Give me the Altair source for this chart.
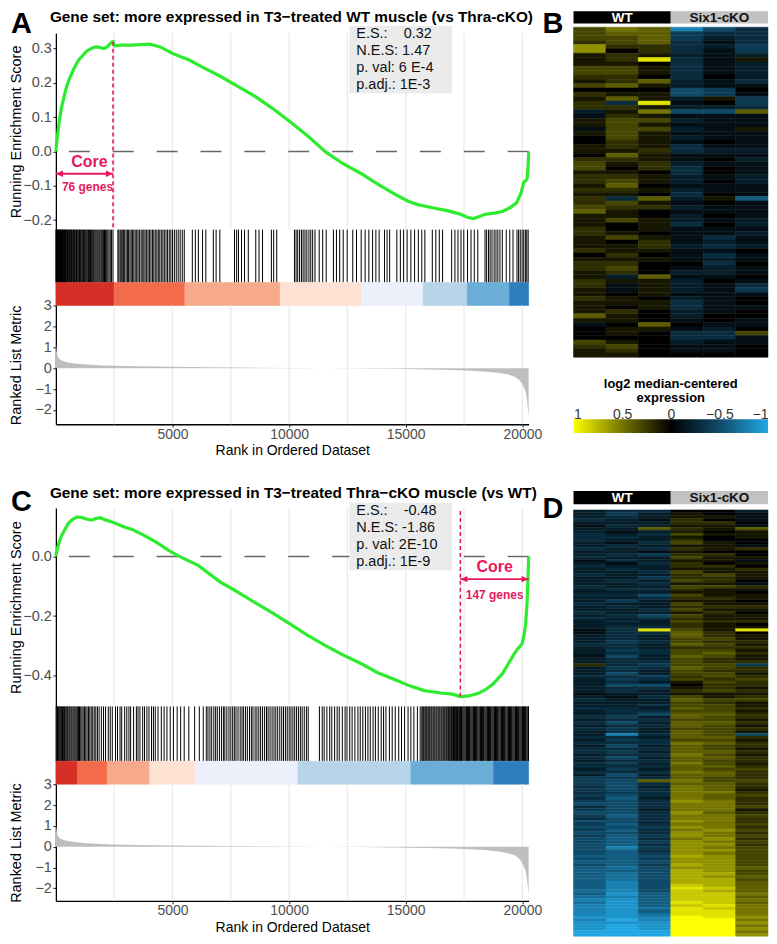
import altair as alt
import pandas as pd

FONT = "Liberation Sans"
RED = "#E8185E"
GREEN = "#2DEB2D"
BLUE_HI = "#21A6E3"
BLUE_MID = "#0F4B69"
YEL_MID = "#757500"

RANK_MAX = 20270
GRID_RANKS = [2500, 5000, 7500, 10000, 12500, 15000, 17500, 20000]
X_TICKS = [5000, 10000, 15000, 20000]
METRIC_TICKS = [-2, -1, 0, 1, 2, 3]
LEGEND_TICKS = [1, 0.5, 0, -0.5, -1]
BAND_COLORS = ["#D62F27", "#F26B4B", "#F7A98B", "#FDE2D4", "#ECF0FA", "#B7D4E8", "#6AAED7", "#2F7EBC"]

# ---------------- panel A ----------------
A_TITLE = "Gene set: more expressed in T3\u2212treated WT muscle (vs Thra-cKO)"
A_ES_RANK = [0, 40, 85, 150, 237, 350, 462, 600, 763, 900, 993, 1150, 1296, 1450, 1600, 1750, 1900, 2052,
             2200, 2300, 2385, 2450, 2520, 2800, 3263, 3700, 4020, 4250, 4474, 4750, 5000, 5400, 5680, 6300,
             7030, 7800, 8560, 9300, 10070, 10800, 11580, 12300, 13100, 13800, 14600, 15100, 15520, 16200,
             16870, 17300, 17640, 17900, 18150, 18400, 18800, 19150, 19450, 19750, 19950, 20060, 20150,
             20210, 20250, 20270]
A_ES_VAL = [0.0, 0.03, 0.055, 0.09, 0.127, 0.16, 0.19, 0.215, 0.24, 0.258, 0.268, 0.28, 0.291, 0.298, 0.303,
            0.305, 0.303, 0.30, 0.305, 0.312, 0.319, 0.32, 0.308, 0.31, 0.31, 0.312, 0.313, 0.309, 0.305, 0.295,
            0.286, 0.275, 0.268, 0.245, 0.22, 0.19, 0.16, 0.125, 0.085, 0.045, -0.002, -0.035, -0.065, -0.095,
            -0.127, -0.145, -0.155, -0.165, -0.174, -0.182, -0.192, -0.196, -0.19, -0.183, -0.18, -0.175,
            -0.165, -0.15, -0.12, -0.09, -0.085, -0.078, -0.04, 0.0]
A_HITS = [3, 14, 31, 44, 58, 77, 95, 118, 133, 150, 171, 196, 214, 239, 262, 281, 305, 322, 348, 371, 399,
          418, 444, 471, 502, 527, 553, 580, 611, 640, 672, 700, 733, 761, 790, 822, 856, 884, 912, 950, 984,
          1015, 1049, 1080, 1117, 1152, 1190, 1221, 1258, 1296, 1330, 1371, 1404, 1446, 1483, 1520, 1561,
          1604, 1640, 1682, 1725, 1770, 1811, 1857, 1899, 1946, 1990, 2038, 2085, 2131, 2180, 2228, 2279,
          2331, 2388, 2450,
          2660, 2702, 2758, 2801, 2846, 2905, 2951, 3012, 3067, 3118, 3176, 3230, 3290, 3342, 3401, 3466,
          3521, 3580, 3652, 3703, 3770, 3825, 3892, 3950, 4011, 4076, 4140, 4199, 4262, 4330, 4391, 4455,
          4520, 4588, 4650, 4722, 4790, 4861, 4930, 5002, 5080, 5161, 5245, 5330, 5420, 5505,
          5850, 5980, 6110, 6290, 6430, 6750, 6870, 7030, 7660, 7750, 7830, 7960, 8090, 8250, 8570, 8710,
          8860, 9240, 9340, 9470, 10230, 10300, 10370, 10450, 10530, 10600, 10680, 10760, 10850, 10930,
          11010, 11110, 11290, 11440, 11590, 11900, 12030, 12170, 12320, 12490, 12730, 12890, 13090, 13260,
          13420, 13580, 13720, 13860, 14090, 14200, 14310, 14620, 14770, 14910, 15060, 15220, 15380, 15540,
          15690, 15820, 16140, 16290, 16440, 16580, 16970, 17110, 17240, 17370, 17490, 17650, 17800, 17940,
          18090, 18400, 18470, 18550, 18620, 18700, 18790, 18870, 18950, 19040, 19140, 19310, 19460, 19600,
          19770, 19840, 19910, 19990, 20060, 20130, 20190, 20250]
A_BAND_EDGES = [0, 2500, 5530, 9620, 13100, 15750, 17640, 19450, 20270]
A_MET_RANK = [0, 10, 30, 60, 100, 170, 300, 500, 800, 1300, 2000, 2500, 3500, 5000, 6500, 8000, 10000,
              11500, 13000, 14500, 16000, 17000, 17800, 18500, 19000, 19400, 19700, 19900, 20050, 20150,
              20210, 20250, 20270]
A_MET_VAL = [1.45, 1.1, 0.85, 0.65, 0.52, 0.43, 0.34, 0.27, 0.22, 0.17, 0.13, 0.11, 0.085, 0.06, 0.04,
             0.025, 0.01, 0.0, -0.015, -0.035, -0.065, -0.09, -0.12, -0.17, -0.23, -0.31, -0.42, -0.6,
             -0.85, -1.15, -1.6, -2.1, -2.4]
A_CORE = 2450
A_CORE_LABEL = ["Core", "76 genes"]
A_STATS = ["E.S.:\u00a0\u00a0\u00a0\u00a00.32", "N.E.S: 1.47", "p. val: 6 E-4", "p.adj.: 1E-3"]

# ---------------- panel C ----------------
C_TITLE = "Gene set: more expressed in T3\u2212treated Thra\u2212cKO muscle (vs WT)"
C_ES_RANK = [0, 60, 150, 237, 380, 540, 720, 917, 1150, 1350, 1525, 1700, 1900, 2150, 2500, 2900, 3263,
             3800, 4320, 4800, 5230, 6100, 7040, 7800, 8560, 9300, 10070, 10800, 11580, 12300, 13100, 13800,
             14600, 15200, 15800, 16500, 17000, 17340, 17700, 18090, 18400, 18690, 18900, 19150, 19400,
             19610, 19800, 19985, 20080, 20140, 20200, 20240, 20270]
C_ES_VAL = [0.0, 0.025, 0.05, 0.069, 0.09, 0.112, 0.125, 0.133, 0.13, 0.125, 0.122, 0.127, 0.13, 0.122,
            0.113, 0.1, 0.091, 0.07, 0.047, 0.022, 0.003, -0.03, -0.085, -0.12, -0.156, -0.19, -0.228, -0.265,
            -0.3, -0.33, -0.36, -0.39, -0.415, -0.435, -0.45, -0.458, -0.462, -0.47, -0.468, -0.46, -0.448,
            -0.431, -0.415, -0.393, -0.36, -0.332, -0.31, -0.294, -0.26, -0.228, -0.16, -0.08, 0.0]
C_HITS = [8, 36, 70, 104, 139, 171, 210, 247, 283, 322, 366, 401, 443, 487, 520, 566, 604, 651, 690, 738,
          781, 826, 871, 920, 968, 1013, 1066, 1118, 1170, 1226, 1281, 1338, 1397, 1455, 1516, 1580, 1645,
          1712, 1781, 1853, 1950, 2044, 2131, 2247, 2330, 2419, 2558, 2643, 2751, 2822, 2950, 3041, 3133,
          3205, 3331, 3452, 3521, 3604, 3722, 3801, 3903, 3992, 4101, 4183, 4262, 4380, 4521, 4640, 4762,
          4903, 5040, 5201, 5350, 5502, 5700, 5950, 6150, 6320,
          6450, 6521, 6604, 6680, 6772, 6850, 6921, 7012, 7100, 7183, 7244, 7330, 7421, 7502, 7580, 7651,
          7723, 7810, 7902, 7981, 8050, 8133, 8210, 8302, 8381, 8450, 8542, 8620, 8701, 8780, 8862, 8950,
          9031, 9100, 9183, 9270, 9352, 9430, 9511, 9600, 9683, 9760, 9842, 9920, 10003, 10080, 10162,
          10240, 10321, 10400, 10483, 10560, 10650, 10742, 10820,
          11300, 11420, 11503, 11620, 11741, 11830, 11952, 12060, 12150, 12281, 12400, 12483, 12600, 12702,
          12820, 12951, 13050, 13160, 13272, 13380, 13481, 13600, 13700, 13822, 13950, 14050, 14152, 14300,
          14420, 14551, 14700, 14820, 14952, 15100, 15221, 15350, 15500, 15620,
          15690, 15730, 15770, 15820, 15860, 15900, 15950, 15990, 16030, 16080, 16120, 16170, 16210, 16250,
          16300, 16340, 16390, 16430, 16470, 16520, 16560, 16610, 16650, 16690, 16740, 16780, 16830, 16870,
          16910, 16960, 17000, 17050, 17090, 17130, 17180, 17220, 17270, 17310, 17350, 17390, 17420, 17460,
          17500, 17540, 17580, 17610, 17650, 17690, 17730, 17760, 17800, 17840, 17880, 17910, 17950, 17990,
          18030, 18060, 18100, 18140, 18180, 18210, 18250, 18290, 18330, 18360, 18400, 18440, 18480, 18510,
          18550, 18590, 18630, 18660, 18700, 18740, 18780, 18810, 18850, 18890, 18930, 18960, 19000, 19040,
          19080, 19110, 19150, 19190, 19230, 19260, 19300, 19340, 19380, 19410, 19450, 19490, 19530, 19560,
          19600, 19640, 19680, 19710, 19750, 19790, 19830, 19860, 19900, 19940, 19980, 20010, 20050, 20090,
          20130, 20160, 20200, 20240, 20265]
C_BAND_EDGES = [0, 920, 2200, 4020, 5990, 10380, 15220, 18770, 20270]
C_MET_RANK = A_MET_RANK
C_MET_VAL = [1.25, 1.0, 0.8, 0.62, 0.5, 0.41, 0.33, 0.27, 0.22, 0.17, 0.13, 0.11, 0.085, 0.06, 0.04, 0.025,
             0.01, 0.0, -0.015, -0.035, -0.065, -0.09, -0.12, -0.17, -0.23, -0.31, -0.42, -0.62, -0.9, -1.2,
             -1.65, -2.05, -2.35]
C_CORE = 17343
C_CORE_LABEL = ["Core", "147 genes"]
C_STATS = ["E.S.:\u00a0\u00a0\u00a0\u00a0-0.48", "N.E.S: -1.86", "p. val: 2E-10", "p.adj.: 1E-9"]

# ---------------- heatmaps (a..j = -1.0..-0.1, 0 = 0, A..J = 0.1..1.0) ----------------
HEAT_GROUPS = ["WT", "Six1-cKO"]
B_ROWS = ["CEDcfh", "CDDghh", "CCDgih", "BCDhjh", "FBBhig", "F0Bhjg", "ABAiji", "ABIhjA", "AA0hji", "CCAhji",
          "CCAhji", "BB0h0i", "ABDijh", "CDAijj", "000fg0", "BAAfgj", "ADAiAg", "BhIj0g", "BBAiih", "iAEffD",
          "jBAjjj", "ACCijj", "ACAjjj", "jCCijA", "ACAjjj", "0CAijj", "0BAj0j", "ABAhjj", "AABhii", "0DAjjj",
          "BBAj0i", "CABijj", "C0Bh0j", "AA0h0j", "BBAiji", "BCAi0i", "AD0jjj", "BBAijj", "AA0h0j", "BhDiAe",
          "BCAj0j", "CBBijj", "DA0jjj", "AA0i0j", "ACAiji", "A0Ah0i", "B0Ajjj", "BA0jji", "ACAjhj", "A0Bjij",
          "AABihi", "BAAjj0", "0B0jhj", "AAAjij", "BB00h0", "BC0jij", "AB0iij", "AiDjj0", "BAAi0j", "BjAijh",
          "AjAijg", "A0Ajjj", "BA0ij0", "AAAhj0", "A0Ahjj", "AB0ij0", "DA0i00", "AA0j0j", "j0D0jj", "0AAji0",
          "0A0hhC", "000hhj", "CA0ijj", "BC0jj0", "AB0jj0", "AA0000"]
D_ROWS = ["ihh00i", "igiA0j", "ihiAAj", "hijB0j", "iiiBB0", "jhiAAj", "iiDBAD", "ijiA0A", "hihCAA", "hhiA0A",
          "hiiB00", "ijhCA0", "ihiAAj", "hihBAB", "iijA00", "ihgBB0", "hiiCAA", "jhiAAj", "ijhB0A", "hiiBB0",
          "ihiAAB", "iihCAA", "hiiBCA", "iigBBA", "ihiCB0", "iihAAj", "hiiCCB", "ihhBAA", "iiiAA0", "hhfCAA",
          "iihBBA", "igiAA0", "hiiCAA", "ihiBBB", "iihCAA", "hiiAB0", "ihfCAA", "hihBAA", "ihiCBB", "iiiBA0",
          "ihhBAA", "jhICAI", "jhhDB0", "ihiDBA", "ihiCCA", "ighCBB", "hhiDCA", "ihiBBB", "ighCCA", "ihhCDB",
          "jfiDCA", "ihiCBA", "ihhCBB", "BhgCCg", "ighDCB", "ihiCBB", "ifiCCA", "hhgBCB", "ighCBC", "ihiACB",
          "iff0BB", "ihhABA", "ihiBCB", "jiiAAA", "ijhCAB", "hiiDCC", "iiiCBA", "iihCCA", "hhiDCB", "ihhCCA",
          "ihfDDB", "hgiDCB", "ihhCCA", "hfiDDB", "ihhDCA", "hgiCCB", "ihiDCA", "ichDCf", "hhiDDB", "ighCCA",
          "hhhEDB", "ifiDCB", "hhhDCA", "hgiDDB", "ihhECA", "hfiDDB", "ihhDCB", "hgiECA", "hhhDDB", "igiDCC",
          "hhhEDB", "ifiDDB", "gghDCB", "gfDECC", "gfhDDB", "hfiEDB", "gfhEDA", "hghEEB", "gfhEDC", "heiEDB",
          "gfhFEB", "ffhEEB", "hfhEEC", "gfiEEA", "ffhFDB", "gehEEC", "hfhEEB", "ffhFEB", "gehEEC", "ffgFEB",
          "gehEFC", "ffhFEB", "gegFEC", "fehEFB", "fegFEC", "fehFFB", "fcgFEC", "fehFFC", "fegFEC", "eefGFC",
          "fegFFC", "eefFFC", "fegGFC", "edfFFD", "eefGFC", "edfGGC", "edfGFD", "edfGGC", "ecfGGD", "ecfHGD",
          "ecfIHD", "dcfHGD", "ebeHHE", "dceHHD", "cbeHHE", "dbeIHD", "cbeHIE", "cbdIHE", "cbeIIE", "cbdIIE",
          "bbcJIF", "cacJJE", "bbbJJF", "babJJE", "babJJF", "aaaJJE", "aaaJJF"]

CODE = {c: -(10 - i) / 10 for i, c in enumerate("abcdefghij")}
CODE.update({c: (i + 1) / 10 for i, c in enumerate("ABCDEFGHIJ")})
CODE["0"] = 0.0

# ---------------- layout ----------------
W = 474
XS = alt.Scale(domain=[0, RANK_MAX], nice=False, zero=False)
YAX = dict(labelFont=FONT, labelFontSize=14.5, labelColor="#4D4D4D", tickColor="#333333", tickSize=3,
           tickWidth=1.1, labelPadding=1.5, titleFont=FONT, titleFontSize=14.5, titleFontWeight="normal",
           titleColor="#000000", titleX=-39, titleBaseline="middle", domainColor="#000000", domainWidth=1.3,
           grid=False, labelOverlap=False)
XAX = dict(labelFont=FONT, labelFontSize=14, labelColor="#4D4D4D", tickColor="#333333", tickSize=3,
           tickWidth=1.1, labelPadding=0, titleFont=FONT, titleFontSize=14, titleFontWeight="normal",
           titleColor="#000000", titlePadding=2.5, domainColor="#000000", domainWidth=1.5, grid=False,
           labelFlush=False, labelOverlap=False)
LEFT_HEAD = "M0,0L2,-0.9L2,0.9Z"
RIGHT_HEAD = "M0,0L-2,-0.9L-2,0.9Z"

PANELS = {
    "A": dict(letter="A", title=A_TITLE, es_rank=A_ES_RANK, es_val=A_ES_VAL, es_dom=[-0.228, 0.345],
              es_ticks=[-0.2, -0.1, 0.0, 0.1, 0.2, 0.3], es_h=197, hits=A_HITS, bar_h=53,
              edges=A_BAND_EDGES, met_rank=A_MET_RANK, met_val=A_MET_VAL, met_dom=[-2.68, 3], met_h=119,
              core=A_CORE, core_y=[0.32, -0.228], arrow=[0, A_CORE], arrow_y=-0.065,
              core_text=[(1441, -0.031), (1356, -0.104)], core_label=A_CORE_LABEL,
              box=[12585, 16992, 0.366, 0.1697], stat_x=12881, stat_y=[0.3411, 0.2922, 0.2434, 0.1945],
              stats=A_STATS, letter_dy=-23, title_dy=-23),
    "C": dict(letter="C", title=C_TITLE, es_rank=C_ES_RANK, es_val=C_ES_VAL, es_dom=[-0.503, 0.163],
              es_ticks=[-0.4, -0.2, 0.0], es_h=199, hits=C_HITS, bar_h=55,
              edges=C_BAND_EDGES, met_rank=C_MET_RANK, met_val=C_MET_VAL, met_dom=[-2.6, 3], met_h=117,
              core=C_CORE, core_y=[-0.47, 0.163], arrow=[C_CORE, RANK_MAX], arrow_y=-0.076,
              core_text=[(18814, -0.036), (18814, -0.129)], core_label=C_CORE_LABEL,
              box=[12585, 16992, 0.180, -0.0459], stat_x=12881, stat_y=[0.1514, 0.0952, 0.0390, -0.0172],
              stats=C_STATS, letter_dy=-20, title_dy=-22),
}


def es_panel(p):
    ys = alt.Scale(domain=p["es_dom"], nice=False, zero=False)
    yax = alt.Axis(title="Running Enrichment Score", values=p["es_ticks"], format=".1f", **YAX)

    def X(f):
        return alt.X(f, type="quantitative", scale=XS, axis=None)

    def Y(f):
        return alt.Y(f, type="quantitative", scale=ys, axis=yax)

    curve = pd.DataFrame({"rank": p["es_rank"], "es": p["es_val"]})
    grid = alt.Chart(pd.DataFrame({"rank": GRID_RANKS})).mark_rule(color="#EBEBEB", strokeWidth=1.3).encode(x=X("rank"))
    zero = alt.Chart(pd.DataFrame({"es": [0.0]})).mark_rule(color="#666666", strokeWidth=1.4, strokeDash=[21, 23]).encode(y=Y("es"))
    b = p["box"]
    box = alt.Chart(pd.DataFrame({"x0": [b[0]], "x1": [b[1]], "y0": [b[2]], "y1": [b[3]]})).mark_rect(color="#EBEBEB").encode(
        x=X("x0"), x2="x1", y=Y("y0"), y2="y1")
    line = alt.Chart(curve).mark_line(color=GREEN, strokeWidth=3.2).encode(x=X("rank"), y=Y("es"))
    core = alt.Chart(pd.DataFrame({"rank": [p["core"]], "es": [p["core_y"][0]], "es2": [p["core_y"][1]]})).mark_rule(
        color=RED, strokeWidth=1.6, strokeDash=[4, 3]).encode(x=X("rank"), y=Y("es"), y2="es2")
    arrow = alt.Chart(pd.DataFrame({"rank": [p["arrow"][0]], "rank2": [p["arrow"][1]], "es": [p["arrow_y"]]})).mark_rule(
        color=RED, strokeWidth=1.8).encode(x=X("rank"), x2="rank2", y=Y("es"))
    heads = alt.Chart(pd.DataFrame({"rank": p["arrow"], "es": [p["arrow_y"]] * 2, "shape": [LEFT_HEAD, RIGHT_HEAD]})).mark_point(
        filled=True, color=RED, size=50, opacity=1, strokeWidth=0).encode(x=X("rank"), y=Y("es"), shape=alt.Shape("shape:N", scale=None))
    ann = pd.DataFrame({"rank": [t[0] for t in p["core_text"]], "es": [t[1] for t in p["core_text"]],
                        "t": p["core_label"], "fs": [16, 12]})
    annt = alt.Chart(ann).mark_text(font=FONT, fontWeight="bold", color=RED, baseline="middle").encode(
        x=X("rank"), y=Y("es"), text="t:N", size=alt.Size("fs:Q", scale=None))
    st = pd.DataFrame({"rank": [p["stat_x"]] * 4, "es": p["stat_y"], "t": p["stats"]})
    stt = alt.Chart(st).mark_text(font=FONT, fontSize=14.5, align="left", baseline="middle", color="#111111").encode(
        x=X("rank"), y=Y("es"), text="t:N")
    lab = alt.Chart(pd.DataFrame({"t": [p["letter"]]})).mark_text(font=FONT, fontSize=29, fontWeight="bold", align="left",
                                                                baseline="top", color="#000000").encode(
        x=alt.value(-45), y=alt.value(p["letter_dy"]), text="t:N")
    ttl = alt.Chart(pd.DataFrame({"t": [p["title"]]})).mark_text(font=FONT, fontSize=15.4, fontWeight="bold", align="left",
                                                               baseline="top", color="#000000").encode(
        x=alt.value(-6), y=alt.value(p["title_dy"]), text="t:N")
    return alt.layer(grid, zero, box, line, core, arrow, heads, annt, stt, lab, ttl).properties(width=W, height=p["es_h"])


def barcode_panel(p):
    return alt.Chart(pd.DataFrame({"rank": p["hits"]})).mark_rule(color="#000000", strokeWidth=1).encode(
        x=alt.X("rank:Q", scale=XS, axis=None)).properties(width=W, height=p["bar_h"])


def band_panel(p):
    e = p["edges"]
    df = pd.DataFrame({"x0": e[:-1], "x1": e[1:], "fill": BAND_COLORS})
    return alt.Chart(df).mark_rect(strokeWidth=0.6).encode(
        x=alt.X("x0:Q", scale=XS, axis=None), x2="x1",
        color=alt.Color("fill:N", scale=None), stroke=alt.Stroke("fill:N", scale=None)).properties(width=W, height=23)


def metric_panel(p):
    ms = alt.Scale(domain=p["met_dom"], nice=False, zero=False)
    yax = alt.Axis(title="Ranked List Metric", values=METRIC_TICKS, format="d", **YAX)
    xax = alt.Axis(title="Rank in Ordered Dataset", values=X_TICKS, format="d", **XAX)

    def X(f):
        return alt.X(f, type="quantitative", scale=XS, axis=xax)

    grid = alt.Chart(pd.DataFrame({"rank": GRID_RANKS})).mark_rule(color="#EBEBEB", strokeWidth=1.3).encode(x=X("rank"))
    df = pd.DataFrame({"rank": p["met_rank"], "m": p["met_val"], "base": 0.0})
    area = alt.Chart(df).mark_area(color="#BEBEBE").encode(
        x=X("rank"), y=alt.Y("m:Q", scale=ms, axis=yax), y2="base")
    return alt.layer(grid, area).properties(width=W, height=p["met_h"])


def spacer(h, w):
    return alt.Chart(pd.DataFrame({"z": [0]})).mark_point(opacity=0, size=1).encode(
        x=alt.value(1), y=alt.value(1)).properties(width=w, height=h)


HW = 195
CS = alt.Scale(domain=[-1, -0.5, 0, 0.5, 1], range=[BLUE_HI, BLUE_MID, "#000000", YEL_MID, "#FFFF00"],
               interpolate="rgb")


def header_chart(letter, dy, h):
    df = pd.DataFrame({"c0": [0, 3], "c1": [3, 6], "mid": [1.5, 4.5], "grp": HEAT_GROUPS,
                       "fill": ["#000000", "#C2C2C2"], "tc": ["#FFFFFF", "#111111"]})
    xs = alt.Scale(domain=[0, 6], nice=False, zero=False)
    bars = alt.Chart(df).mark_rect().encode(x=alt.X("c0:Q", scale=xs, axis=None), x2="c1",
                                            color=alt.Color("fill:N", scale=None))
    txt = alt.Chart(df).mark_text(font=FONT, fontSize=13.5, fontWeight="bold", baseline="middle").encode(
        x=alt.X("mid:Q", scale=xs, axis=None), y=alt.value(h / 2 + 0.5), text="grp:N",
        color=alt.Color("tc:N", scale=None))
    lab = alt.Chart(pd.DataFrame({"t": [letter]})).mark_text(font=FONT, fontSize=29, fontWeight="bold", align="left",
                                                           baseline="top", color="#000000").encode(
        x=alt.value(-31), y=alt.value(dy), text="t:N")
    return alt.layer(bars, txt, lab).properties(width=HW, height=h)


def heat_chart(rows, h):
    recs = []
    for r, s in enumerate(rows):
        for c, ch in enumerate(s):
            recs.append({"r0": r, "r1": r + 1, "c0": c, "c1": c + 1, "v": CODE[ch]})
    df = pd.DataFrame(recs)
    n = len(rows)
    return alt.Chart(df).mark_rect(strokeWidth=0.5).encode(
        x=alt.X("c0:Q", scale=alt.Scale(domain=[0, 6], nice=False, zero=False), axis=None), x2="c1",
        y=alt.Y("r0:Q", scale=alt.Scale(domain=[0, n], nice=False, zero=False, reverse=True), axis=None), y2="r1",
        color=alt.Color("v:Q", scale=CS, legend=None),
        stroke=alt.Stroke("v:Q", scale=CS, legend=None)).properties(width=HW, height=h)


def legend_chart():
    grad = alt.LinearGradient(gradient="linear", stops=[alt.GradientStop(color="#FFFF00", offset=0),
                                                        alt.GradientStop(color=YEL_MID, offset=0.25),
                                                        alt.GradientStop(color="#000000", offset=0.5),
                                                        alt.GradientStop(color=BLUE_MID, offset=0.75),
                                                        alt.GradientStop(color=BLUE_HI, offset=1)],
                              x1=0, x2=1, y1=0, y2=0)
    df = pd.DataFrame({"lo": [LEGEND_TICKS[0]], "hi": [LEGEND_TICKS[-1]]})
    return alt.Chart(df).mark_rect(fill=grad).encode(
        x=alt.X("lo:Q", scale=alt.Scale(domain=[1, -1], nice=False, zero=False),
                axis=alt.Axis(orient="top", values=LEGEND_TICKS, format="~g", ticks=False, domain=False, grid=False,
                              labelFont=FONT, labelFontSize=14, labelColor="#333333", labelPadding=1,
                              labelBaseline="alphabetic", title=None, labelFlush=True, labelOverlap=False)),
        x2="hi").properties(width=HW, height=14,
                            title=alt.TitleParams(["log2 median-centered", "expression"], font=FONT, fontSize=13,
                                                  fontWeight="bold", lineHeight=14, anchor="middle", offset=2,
                                                  color="#000000"))


pa, pc = PANELS["A"], PANELS["C"]
left = alt.vconcat(
    spacer(21.7, W), es_panel(pa), barcode_panel(pa), band_panel(pa), metric_panel(pa),
    spacer(83.5, W), es_panel(pc), barcode_panel(pc), band_panel(pc), metric_panel(pc),
    spacing=0, bounds="flush")
right = alt.vconcat(
    header_chart("B", -1.3, 12.3), spacer(2.5, HW), heat_chart(B_ROWS, 331), spacer(62, HW), legend_chart(),
    spacer(58, HW), header_chart("D", 3.8, 13.3), spacer(5, HW), heat_chart(D_ROWS, 427.4),
    spacing=0, bounds="flush")

chart = alt.hconcat(left, right, spacing=0).properties(padding=0, background="white").configure_view(strokeWidth=0)
chart.save("out.html", embed_options={"renderer": "svg", "actions": False})
